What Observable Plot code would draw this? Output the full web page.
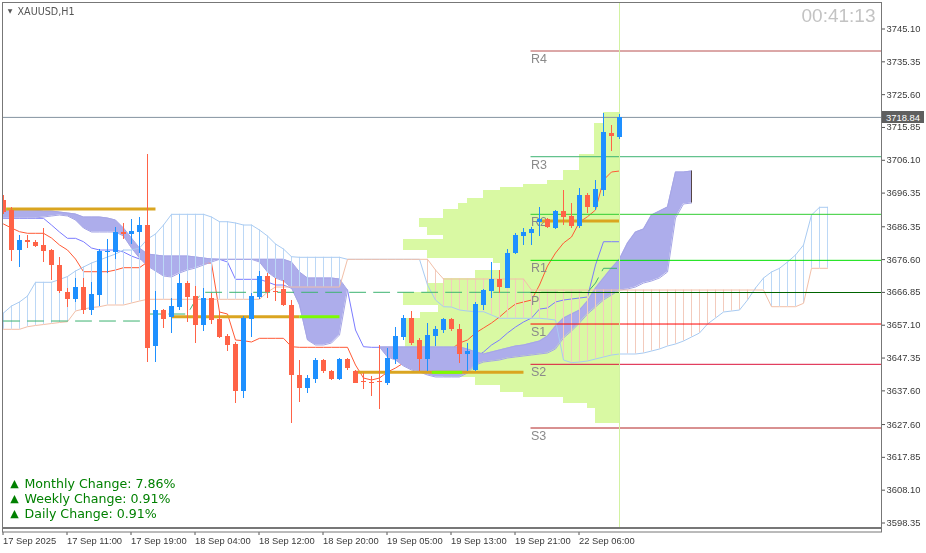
<!DOCTYPE html>
<html><head><meta charset="utf-8">
<script src="https://cdn.jsdelivr.net/npm/d3@7"></script>
<script src="https://cdn.jsdelivr.net/npm/@observablehq/plot@0.6"></script>
<style>
html,body{margin:0;padding:0;background:#fff;}
#chart{width:926px;height:553px;overflow:hidden;}
</style></head><body><div id="chart"></div>
<script>
// ---------- DATA ----------
const symbolTitle = "XAUUSD,H1";
const countdown = "00:41:13";
const timeLabels = ["17 Sep 2025","17 Sep 11:00","17 Sep 19:00","18 Sep 04:00","18 Sep 12:00","18 Sep 20:00","19 Sep 05:00","19 Sep 13:00","19 Sep 21:00","22 Sep 06:00"];
const timeLabelBars = [0,8,16,24,32,40,48,56,64,72];
const priceTicks = [3745.10,3735.35,3725.60,3715.85,3706.10,3696.35,3686.35,3676.60,3666.85,3657.10,3647.35,3637.60,3627.60,3617.85,3608.10,3598.35];
const lastPrice = 3718.84;

const opens  = [3694.3,3691.3,3679.2,3682.4,3681.8,3680.9,3679.2,3674.9,3666.9,3664.7,3668.2,3661.4,3665.8,3678.7,3678.7,3684.6,3684.1,3684.6,3686.6,3650.7,3661.6,3659.3,3662.5,3669.4,3665.5,3657.0,3664.9,3658.7,3653.7,3651.5,3637.4,3658.7,3665.3,3671.7,3667.2,3667.6,3663.1,3642.3,3638.3,3641.0,3646.5,3643.5,3641.0,3646.8,3643.3,3640.2,3640.1,3640.2,3639.9,3647.0,3653.4,3659.0,3652.5,3647.0,3653.7,3655.4,3658.7,3655.9,3648.3,3643.8,3663.1,3667.1,3670.8,3668.0,3678.5,3683.6,3684.4,3687.7,3688.4,3685.9,3691.0,3689.3,3686.3,3695.5,3692.0,3697.1,3714.2,3712.8];
const highs  = [3695.5,3692.1,3683.9,3683.7,3682.4,3685.9,3679.7,3677.3,3667.9,3671.0,3671.1,3669.7,3679.5,3682.6,3686.2,3687.2,3688.6,3689.0,3707.7,3667.0,3661.9,3665.1,3672.2,3670.0,3668.7,3667.9,3666.5,3661.0,3654.2,3651.9,3659.6,3666.6,3673.0,3672.5,3671.0,3670.5,3664.4,3646.5,3642.3,3647.3,3646.8,3643.8,3647.3,3647.3,3643.8,3642.8,3641.8,3651.2,3650.3,3656.5,3659.9,3661.1,3653.2,3657.7,3656.7,3659.0,3659.2,3657.2,3651.7,3663.8,3667.8,3675.8,3673.5,3679.5,3684.4,3685.7,3686.0,3692.1,3688.7,3691.3,3697.1,3693.3,3697.6,3696.3,3700.2,3719.9,3716.3,3719.6];
const lows   = [3690.1,3676.0,3674.3,3679.8,3680.3,3675.7,3670.3,3666.6,3662.3,3663.9,3660.2,3660.1,3662.6,3672.5,3676.7,3682.6,3681.2,3678.5,3646.0,3646.0,3656.1,3654.6,3661.6,3657.9,3651.6,3655.2,3657.2,3653.3,3649.2,3633.9,3635.4,3653.4,3664.6,3665.1,3664.1,3662.6,3628.0,3634.1,3636.9,3639.9,3642.8,3640.6,3640.6,3643.8,3639.9,3637.9,3635.9,3632.1,3639.1,3645.3,3652.7,3651.2,3643.3,3643.3,3650.7,3654.7,3655.2,3645.8,3643.3,3643.3,3661.6,3665.1,3666.6,3668.0,3678.0,3680.9,3680.7,3683.4,3685.9,3685.6,3686.6,3685.9,3685.9,3690.4,3691.3,3695.3,3708.7,3712.3];
const closes = [3690.7,3679.2,3682.4,3681.6,3680.6,3678.9,3674.8,3667.1,3664.7,3668.2,3661.4,3666.1,3678.9,3678.9,3684.6,3684.1,3684.8,3686.6,3650.1,3661.6,3658.7,3662.8,3669.4,3665.3,3657.0,3664.9,3658.5,3653.4,3651.2,3637.4,3659.0,3665.5,3671.7,3666.9,3666.9,3663.1,3642.1,3638.2,3641.4,3646.5,3643.3,3641.1,3646.8,3644.1,3639.9,3640.1,3640.0,3640.0,3647.3,3653.7,3659.0,3651.7,3646.8,3654.0,3655.7,3658.7,3655.9,3648.3,3649.4,3663.3,3667.3,3670.8,3668.4,3678.5,3683.9,3684.6,3685.4,3688.4,3686.1,3691.0,3689.2,3686.4,3695.5,3692.0,3697.3,3714.5,3713.1,3718.84];

const tenkan = [3687.17,3685.98,3684.88,3684.41,3684.41,3684.41,3683.01,3680.93,3679.44,3676.77,3673.00,3673.00,3673.00,3673.00,3673.50,3674.19,3674.19,3674.19,3675.88,3675.58,3675.58,3675.58,3675.58,3675.58,3675.58,3675.58,3675.58,3661.03,3660.43,3652.71,3652.50,3652.12,3653.21,3653.21,3653.21,3653.21,3650.72,3650.54,3650.54,3650.54,3650.54,3650.54,3650.54,3650.54,3645.28,3641.42,3640.83,3641.42,3643.20,3644.39,3645.88,3646.98,3646.98,3646.98,3646.98,3648.25,3650.04,3651.82,3652.71,3654.79,3656.27,3657.76,3659.54,3661.62,3663.40,3664.00,3664.59,3669.05,3674.69,3678.55,3681.52,3683.31,3687.76,3689.34,3691.33,3700.24,3702.62,3702.91];
const kijun = [3688.86,3688.86,3688.86,3688.86,3688.86,3688.86,3686.87,3684.79,3682.92,3682.92,3681.91,3680.04,3679.44,3679.44,3679.44,3678.85,3677.66,3676.77,3676.68,3676.68,3676.68,3676.68,3676.68,3676.68,3676.68,3676.68,3676.68,3676.68,3675.88,3670.74,3670.74,3670.74,3670.74,3669.94,3669.05,3669.05,3668.07,3668.07,3668.07,3668.07,3668.07,3668.07,3668.07,3667.56,3655.68,3650.72,3650.54,3650.54,3650.54,3650.54,3650.54,3650.54,3650.54,3650.54,3650.54,3649.74,3649.14,3648.25,3647.66,3647.66,3649.14,3651.22,3652.71,3654.79,3656.57,3658.06,3659.24,3661.92,3662.22,3664.00,3664.59,3664.89,3665.19,3665.48,3675.00,3681.91,3681.91,3681.91];

const spanA = [3660.73,3662.81,3664.00,3665.78,3669.85,3669.85,3669.85,3670.68,3671.57,3673.21,3674.40,3675.58,3676.47,3677.37,3678.26,3679.44,3679.44,3680.04,3682.71,3684.20,3686.87,3690.05,3690.05,3690.05,3690.05,3690.05,3689.25,3687.85,3687.85,3687.47,3686.87,3686.87,3685.39,3683.60,3681.23,3679.74,3677.45,3677.28,3677.28,3677.28,3677.28,3677.28,3677.28,3676.68,3676.68,3676.68,3676.68,3676.68,3676.68,3676.68,3676.68,3676.68,3676.68,3669.05,3664.59,3662.60,3662.51,3661.62,3661.32,3661.12,3661.12,3660.14,3659.16,3659.16,3659.16,3659.16,3659.16,3659.16,3658.95,3658.65,3646.77,3645.97,3646.17,3646.47,3647.07,3647.66,3648.25,3648.55,3648.55,3648.55,3648.85,3649.44,3650.04,3650.93,3651.52,3652.41,3653.60,3654.79,3657.46,3659.24,3661.03,3661.32,3661.62,3664.59,3668.16,3671.13,3672.91,3674.01,3675.88,3677.96,3680.93,3689.84,3692.13,3692.13];
const spanB = [3655.89,3655.89,3655.89,3656.66,3657.02,3657.31,3657.61,3657.91,3658.15,3661.32,3661.92,3662.36,3662.60,3663.11,3663.11,3663.11,3663.70,3664.29,3664.80,3664.80,3664.80,3664.80,3664.80,3664.80,3664.80,3664.80,3664.80,3664.80,3664.80,3664.80,3664.80,3664.80,3664.80,3666.97,3668.45,3668.45,3668.45,3668.45,3668.45,3668.45,3668.45,3668.45,3668.45,3676.68,3676.68,3676.68,3676.68,3676.68,3676.68,3676.68,3676.68,3676.68,3676.68,3676.68,3673.50,3670.83,3670.83,3670.83,3670.83,3670.83,3670.83,3670.83,3670.83,3670.83,3670.83,3670.83,3667.56,3667.56,3667.56,3667.56,3667.56,3667.56,3667.56,3667.56,3667.56,3667.56,3667.56,3667.56,3667.56,3667.56,3667.56,3667.56,3667.56,3667.56,3667.56,3667.56,3667.56,3667.56,3667.56,3667.56,3667.56,3667.56,3667.56,3667.56,3667.56,3667.56,3662.60,3662.60,3662.60,3662.60,3663.61,3674.01,3674.01,3674.01];

const cloudTop = [3691.62,3691.62,3691.62,3691.62,3691.33,3691.03,3691.03,3690.73,3690.44,3690.14,3689.25,3689.25,3689.25,3688.95,3688.36,3685.98,3683.01,3680.04,3678.26,3677.96,3677.66,3677.66,3677.66,3677.66,3677.37,3677.07,3676.77,3676.68,3676.68,3676.68,3676.68,3676.68,3676.68,3676.68,3676.68,3676.68,3675.88,3672.91,3671.13,3671.13,3671.13,3671.13,3670.83,3667.56,null,null,null,3650.63,3650.63,3650.63,3650.63,3650.63,3650.63,3650.63,3650.63,3650.63,3650.63,3650.63,3650.04,3649.15,3648.55,3649.15,3649.74,3650.33,3650.93,3651.22,3651.82,3652.41,3653.90,3656.87,3659.24,3660.43,3661.62,3664.29,3668.16,3671.13,3674.10,3676.77,3681.52,3684.79,3685.68,3689.84,3691.03,3692.22,3702.62,3702.62,3702.91];
const cloudBottom = [3688.95,3688.95,3688.95,3688.95,3688.95,3689.25,3689.55,3689.84,3689.55,3688.36,3685.98,3684.79,3684.79,3684.79,3684.79,3683.60,3680.04,3677.07,3674.69,3673.21,3671.72,3671.42,3672.61,3673.50,3674.10,3674.99,3675.88,3676.68,3676.68,3676.68,3676.68,3676.68,3675.88,3672.91,3671.13,3670.24,3668.16,3663.11,3652.71,3651.22,3651.22,3651.82,3654.20,3667.56,null,null,null,3650.63,3647.66,3646.77,3644.99,3643.80,3643.21,3642.31,3641.72,3641.72,3641.72,3641.72,3642.91,3645.28,3646.17,3646.47,3646.77,3647.36,3647.66,3647.96,3648.25,3648.55,3648.85,3650.04,3653.31,3655.38,3657.76,3660.43,3662.51,3664.59,3666.08,3667.56,3667.86,3668.45,3669.64,3670.24,3671.13,3672.91,3688.95,3693.12,3693.41];

const dashedBars   = [0, 17, 18, 23, 24, 25, 73, 74, 75, 77];
const dashedPrices = [3658.35, 3658.35, 3660.43, 3660.43, 3664.59, 3666.88, 3666.88, 3669.64, 3674.01, 3674.01];

const pivotNames  = ["R4","R3","R2","R1","P","S1","S2","S3"];
const pivotLevels = [3738.56, 3707.16, 3690.05, 3676.38, 3666.82, 3657.46, 3645.49, 3626.57];
const pivotStartBar = 65.94;

const levelPrices   = [3691.62, 3659.63, 3643.11, 3688.06];
const levelStartBar = [0.44, 21.06, 43.94, 67.06];
const levelEndBar   = [19.06, 37.06, 65.06, 77.06];
const touchPrices   = [3691.62, 3659.63, 3643.11];
const touchStartBar = [0.06, 37.06, 53.6];
const touchEndBar   = [0.44, 42.06, 57.4];

const profileEdges  = [3720.23,3717.17,3707.67,3703.21,3700.24,3699.05,3698.16,3697.27,3694.60,3693.41,3691.62,3688.95,3686.28,3683.90,3682.42,3679.44,3677.07,3675.58,3673.50,3671.13,3669.64,3666.97,3663.11,3661.03,3659.24,3650.63,3646.17,3643.80,3641.72,3639.34,3636.97,3635.78,3633.99,3632.51,3628.05];
const profileVolume = [16,25,40,56,72,96,119,136,152,161,176,200,192,176,216,192,126,119,144,176,192,216,181,199,214,209,192,176,144,119,96,56,32,24];
const profileEndBar = 77.06;

const changeLabels = ["Monthly Change: 7.86%","Weekly Change: 0.91%","Daily Change: 0.91%"];

// ---------- STYLE ----------
const BULL = "#1e90ff", BEAR = "#ff6347";
const pivotColors = ["#b85050","#3cb371","#32cd32","#00e000","#006400","#ff0000","#dc143c","#b22222"];
const W = 926, H = 553;

// ---------- BUILD ----------
const candles = opens.map((o, i) => {
  const c = closes[i];
  let lo = Math.min(o, c), hi = Math.max(o, c);
  if (hi - lo < 0.3) { const m = (hi + lo) / 2; lo = m - 0.15; hi = m + 0.15; }
  return {i, o, h: highs[i], l: lows[i], c, lo, hi, col: c >= o ? BULL : BEAR};
});
const ind = tenkan.map((t, i) => ({i, t, k: kijun[i]}));
const span = spanA.map((a, i) => ({i, a, b: spanB[i]}));
const cloud = cloudTop.map((t, i) => ({i, t, b: cloudBottom[i]}));
const dashed = dashedBars.map((b, j) => ({i: b, p: dashedPrices[j]}));
const pivots = pivotNames.map((n, j) => ({n, p: pivotLevels[j], col: pivotColors[j]}));
const levels = levelPrices.map((p, j) => ({p, x1: levelStartBar[j], x2: levelEndBar[j]}));
const touches = touchPrices.map((p, j) => ({p, x1: touchStartBar[j], x2: touchEndBar[j]}));
const profile = profileVolume.map((v, j) => ({v, hi: profileEdges[j], lo: profileEdges[j+1]}));
const PROFILE_SCALE = 1/8;

const marks = [
  Plot.rect(profile, {x1: d => profileEndBar - d.v * PROFILE_SCALE, x2: profileEndBar, y1: "lo", y2: "hi", fill: "#d9f9a3", shapeRendering: "crispEdges", clip: true}),
  Plot.line(ind, {x: "i", y: "t", stroke: "#ff5a36", strokeWidth: 1, clip: true}),
  Plot.line(ind, {x: "i", y: "k", stroke: "#7b7bff", strokeWidth: 1, clip: true}),
  Plot.areaY(cloud, {x: "i", y1: "b", y2: "t", fill: "#adadeb", mixBlendMode: "multiply", clip: true}),
  Plot.line(cloud, {x: "i", y: "t", stroke: "#a6a6e6", strokeWidth: 1, clip: true}),
  Plot.line(cloud, {x: "i", y: "b", stroke: "#a6a6e6", strokeWidth: 1, clip: true}),
  Plot.ruleX(span.filter(d => Math.abs(d.a - d.b) > 0.01), {x: "i", y1: "a", y2: "b", stroke: d => d.a > d.b ? "#bcd8f6" : "#f3cbbd", strokeWidth: 1, clip: true}),
  Plot.line(span, {x: "i", y: "a", stroke: "#a9cbf2", strokeWidth: 1, clip: true}),
  Plot.line(span, {x: "i", y: "b", stroke: "#f2bfa8", strokeWidth: 1, clip: true}),
  Plot.line(dashed, {x: "i", y: "p", stroke: "#3cb371", strokeWidth: 1, strokeDasharray: "16,8", clip: true}),
  Plot.ruleY(pivots, {y: "p", x1: pivotStartBar, x2: 120, stroke: "col", strokeWidth: 1, clip: true}),
  Plot.text(pivots, {x: pivotStartBar, y: "p", text: "n", textAnchor: "start", lineAnchor: "middle", dy: 8, fill: "#8a8a8a", fontSize: 12.5, fontFamily: "Liberation Sans, Arial, sans-serif", clip: true}),
  Plot.ruleY(levels, {y: "p", x1: "x1", x2: "x2", stroke: "#daa520", strokeWidth: 3, clip: true}),
  Plot.ruleY(touches, {y: "p", x1: "x1", x2: "x2", stroke: "#7cfc00", strokeWidth: 3, clip: true}),
  Plot.ruleY([lastPrice], {stroke: "#8593a0", strokeWidth: 1, clip: true}),
  Plot.ruleX([77], {stroke: "#d2f2a2", strokeWidth: 1, clip: true}),
  Plot.ruleX(cloud.filter(d => d.i === cloud.length - 1), {x: "i", y1: "b", y2: "t", stroke: "#554444", strokeWidth: 1, clip: true}),
  Plot.ruleX(candles, {x: "i", y1: "l", y2: "h", stroke: "col", strokeWidth: 1, shapeRendering: "crispEdges", clip: true}),
  Plot.rect(candles, {x1: d => d.i - 0.3125, x2: d => d.i + 0.3125, y1: "lo", y2: "hi", fill: "col", shapeRendering: "crispEdges", clip: true}),
  Plot.frame({stroke: "#777", strokeWidth: 1}),
  Plot.axisY(priceTicks, {anchor: "right", tickSize: 3, tickPadding: 2, tickFormat: d => d.toFixed(2), fontSize: 9.4, fill: "#3a3a3a", stroke: "#555"}),
  Plot.axisX(timeLabelBars, {anchor: "bottom", tickSize: 3, tickPadding: 2, tickFormat: d => timeLabels[timeLabelBars.indexOf(d)], textAnchor: "start", dx: -0.5, dy: 5, fontSize: 9.4, fill: "#3a3a3a", stroke: "#555"}),
  Plot.text([symbolTitle], {frameAnchor: "top-left", text: d => d, dx: 15, dy: 9, textAnchor: "start", lineAnchor: "middle", fontSize: 9.6, fontFamily: "DejaVu Sans, sans-serif", fill: "#555"}),
  Plot.text(["▼"], {frameAnchor: "top-left", text: d => d, dx: 7.5, dy: 9, textAnchor: "middle", lineAnchor: "middle", fontSize: 6, fontFamily: "DejaVu Sans, sans-serif", fill: "#555"}),
  Plot.text([countdown], {frameAnchor: "top-right", text: d => d, dx: -6, dy: 13, textAnchor: "end", lineAnchor: "middle", fontSize: 19, fontFamily: "Liberation Sans, Arial, sans-serif", fill: "#c3c3c3"}),
  ...changeLabels.flatMap((t, j) => [
    Plot.text([t], {frameAnchor: "bottom-left", text: d => d, dx: 22, dy: -43.7 + 15 * j, textAnchor: "start", lineAnchor: "middle", fontSize: 12.6, fontFamily: "DejaVu Sans, sans-serif", fill: "#008000"}),
    Plot.text(["▲"], {frameAnchor: "bottom-left", text: d => d, dx: 12, dy: -44.2 + 15 * j, textAnchor: "middle", lineAnchor: "middle", fontSize: 11, fontFamily: "DejaVu Sans, sans-serif", fill: "#008000"})
  ])
];

const chart = Plot.plot({
  width: W, height: H,
  marginTop: 2, marginLeft: 2, marginRight: 45, marginBottom: 26,
  x: {type: "linear", domain: [0, 77], range: [3, 619], axis: null},
  y: {type: "linear", domain: [3598.35, 3745.10], range: [522.5, 28.5], axis: null},
  style: {background: "#fff", fontFamily: "Liberation Sans, Arial, sans-serif", fontSize: "9.4px", color: "#3a3a3a", overflow: "visible"},
  marks
});
document.getElementById("chart").appendChild(chart);

// price tag on the right axis and the strip under the time scale
const svg = d3.select(chart);
const yp = chart.scale("y").apply(lastPrice) + 0.5;
const axisX0 = W - 45;
svg.append("rect").attr("x", axisX0 + 1).attr("y", Math.round(yp) - 6).attr("width", 42).attr("height", 12).attr("fill", "#5f5f5f");
svg.append("text").attr("x", axisX0 + 5).attr("y", Math.round(yp) + 3.5).attr("text-anchor", "start").attr("fill", "#fff").attr("font-size", 9.4).attr("font-family", "Liberation Sans, Arial, sans-serif").text(lastPrice.toFixed(2));
svg.append("rect").attr("x", 2.5).attr("y", 528.5).attr("width", axisX0 - 2).attr("height", 3.5).attr("fill", "none").attr("stroke", "#777");
</script></body></html>
